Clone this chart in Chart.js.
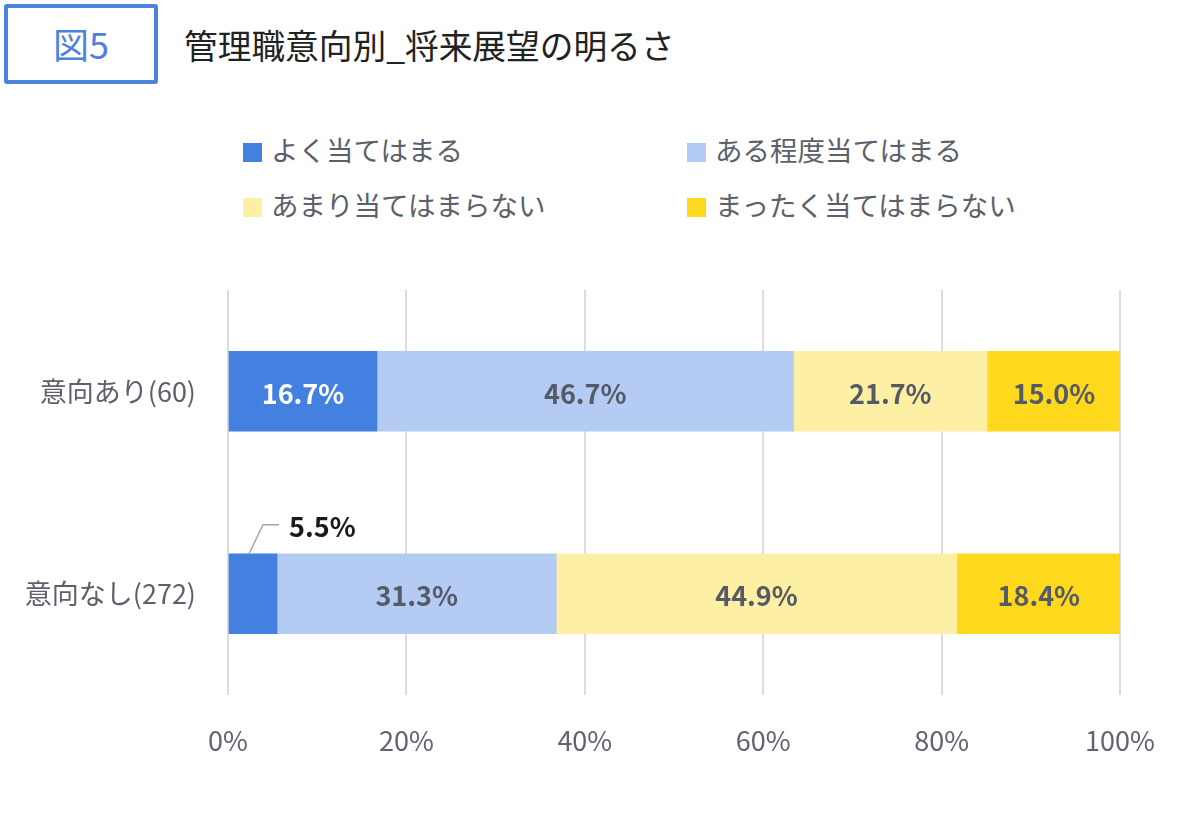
<!DOCTYPE html>
<html lang="ja">
<head>
<meta charset="utf-8">
<script src="https://cdn.jsdelivr.net/npm/chart.js@4"></script>
<style>
    html, body { margin: 0; padding: 0; background: #fff; }
    body { width: 1200px; height: 817px; position: relative; overflow: hidden;
           font-family: "Noto Sans CJK JP", "Noto Sans", sans-serif; }
    #fig-box { position: absolute; left: 4px; top: 4px; width: 146px; height: 72px;
               border: 4px solid #4a82dc; border-radius: 3px; color: #4a82dc;
               font-size: 36px; line-height: 70px; text-align: center; }
    #title { position: absolute; left: 184px; top: 20px; font-size: 33.7px; color: #222; }
    .legend-item { position: absolute; font-size: 27.5px; color: #5c606b; line-height: 34px; }
    .legend-item span { display: inline-block; width: 19px; height: 19px; margin-right: 9px;
                        vertical-align: -1px; }
    #chart-wrap { position: absolute; left: 0; top: 0; width: 1200px; height: 817px; }
</style>
</head>
<body>
<div id="fig-box">図5</div>
<div id="title">管理職意向別_将来展望の明るさ</div>
<div id="legend"></div>
<div id="chart-wrap"><canvas id="bar-chart"></canvas></div>

<script>
// Data
const categories = ["意向あり(60)", "意向なし(272)"];
const seriesNames = ["よく当てはまる", "ある程度当てはまる", "あまり当てはまらない", "まったく当てはまらない"];
const veryTrue = [16.7, 5.5];
const somewhatTrue = [46.7, 31.3];
const notMuch = [21.7, 44.9];
const notAtAll = [15.0, 18.4];
const tickLabels = ["0%", "20%", "40%", "60%", "80%", "100%"];

const colors = ["#4380e0", "#b4cbf3", "#fdefa4", "#fdd81c"];
const labelColors = [["#ffffff", "#2b2b2b"], ["#545a66", "#545a66"], ["#545a66", "#545a66"], ["#545a66", "#545a66"]];

// Legend (two columns)
const legendEl = document.getElementById("legend");
const legendPos = [[243, 132], [687, 132], [243, 187], [687, 187]];
seriesNames.forEach((name, i) => {
    const div = document.createElement("div");
    div.className = "legend-item";
    div.style.left = legendPos[i][0] + "px";
    div.style.top = legendPos[i][1] + "px";
    div.innerHTML = `<span style="background:${colors[i]}"></span>${name}`;
    legendEl.appendChild(div);
});

// Value labels inside / beside the bars
const valueLabels = {
    id: "valueLabels",
    afterDatasetsDraw(chart) {
        const ctx = chart.ctx;
        ctx.save();
        ctx.font = "bold 27px 'Noto Sans CJK JP', 'Noto Sans', sans-serif";
        ctx.textAlign = "center";
        ctx.textBaseline = "middle";
        chart.data.datasets.forEach((ds, di) => {
            const meta = chart.getDatasetMeta(di);
            meta.data.forEach((bar, idx) => {
                const v = ds.data[idx];
                const text = v.toFixed(1) + "%";
                const left = Math.min(bar.x, bar.base);
                const w = Math.abs(bar.x - bar.base);
                ctx.fillStyle = labelColors[di][idx];
                if (w < 70) {
                    // small segment: label above with a leader line
                    const top = bar.y - bar.height / 2;
                    ctx.strokeStyle = "#a6a6a6";
                    ctx.lineWidth = 1.5;
                    ctx.beginPath();
                    ctx.moveTo(left + w / 2 - 4, top);
                    ctx.lineTo(left + w / 2 + 10, top - 29);
                    ctx.lineTo(left + w / 2 + 26, top - 29);
                    ctx.stroke();
                    ctx.fillStyle = "#1a1a1a";
                    ctx.textAlign = "left";
                    ctx.fillText(text, left + w / 2 + 36, top - 27);
                    ctx.textAlign = "center";
                } else {
                    ctx.fillText(text, left + w / 2, bar.y + 2);
                }
            });
        });
        ctx.restore();
    }
};

const ctx = document.getElementById("bar-chart").getContext("2d");
const seriesData = [veryTrue, somewhatTrue, notMuch, notAtAll];
new Chart(ctx, {
    type: "bar",
    data: {
        labels: categories,
        datasets: seriesNames.map((name, i) => ({
            label: name,
            data: seriesData[i],
            backgroundColor: colors[i],
            borderWidth: 0,
            barThickness: 80
        }))
    },
    options: {
        indexAxis: "y",
        responsive: true,
        maintainAspectRatio: false,
        animation: false,
        layout: { padding: { top: 290, right: 80, left: 0, bottom: 0 } },
        scales: {
            x: {
                stacked: true,
                min: 0,
                max: 100,
                border: { display: false },
                grid: { color: "#dcdcdc", lineWidth: 2, drawTicks: false },
                ticks: {
                    stepSize: 20,
                    padding: 30,
                    color: "#5f6470",
                    font: { size: 27, family: "'Noto Sans CJK JP', 'Noto Sans', sans-serif" },
                    callback: (v, i) => tickLabels[i]
                },
                afterFit: (scale) => { scale.height = 122; }
            },
            y: {
                stacked: true,
                border: { display: false },
                grid: { display: false, drawTicks: false },
                ticks: {
                    padding: 32,
                    color: "#5c606b",
                    font: { size: 27, family: "'Noto Sans CJK JP', 'Noto Sans', sans-serif" }
                },
                afterFit: (scale) => { scale.width = 228; }
            }
        },
        plugins: {
            legend: { display: false },
            tooltip: { enabled: false }
        }
    },
    plugins: [valueLabels]
});
</script>
</body>
</html>
